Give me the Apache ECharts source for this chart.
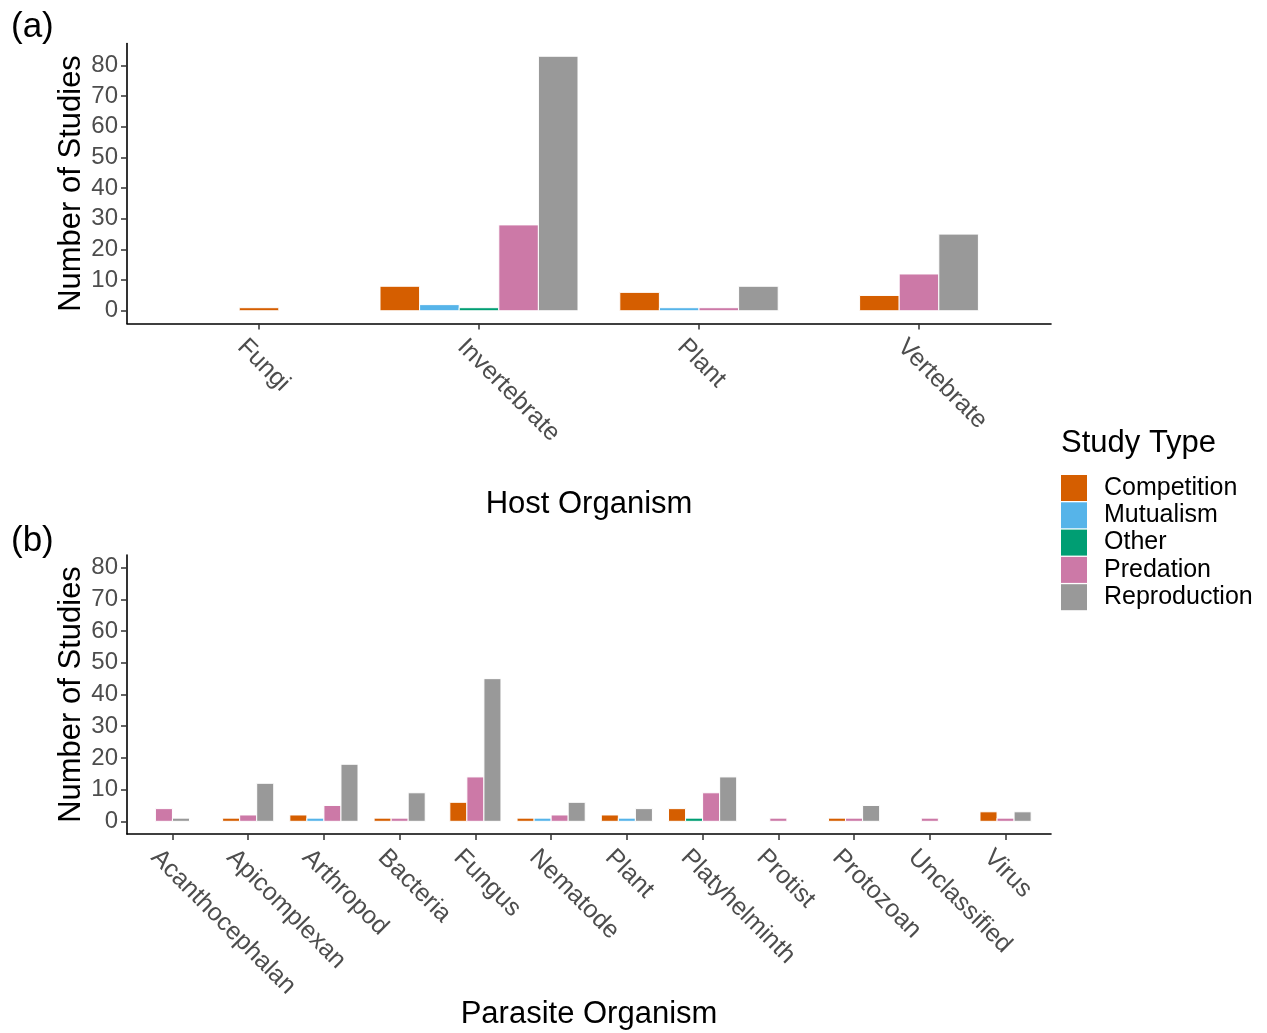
<!DOCTYPE html>
<html>
<head>
<meta charset="utf-8">
<script src="https://cdn.jsdelivr.net/npm/echarts@6/dist/echarts.min.js"></script>
<style>
  html, body { margin: 0; padding: 0; background: #fff; }
  #chart { width: 1267px; height: 1033px; }
</style>
</head>
<body>
<div id="chart"></div>
<script>
// study types (legend order) and colours
var studyTypes = ['Competition', 'Mutualism', 'Other', 'Predation', 'Reproduction'];
var typeColors = ['#D55E00', '#56B4E9', '#009E73', '#CC79A7', '#999999'];

// (a) host organism
var hostCategories = ['Fungi', 'Invertebrate', 'Plant', 'Vertebrate'];
var hostCompetition  = [1, 8, 6, 5];
var hostMutualism    = [0, 2, 1, 0];
var hostOther        = [0, 1, 0, 0];
var hostPredation    = [0, 28, 1, 12];
var hostReproduction = [0, 83, 8, 25];

// (b) parasite organism
var parasiteCategories = ['Acanthocephalan', 'Apicomplexan', 'Arthropod', 'Bacteria', 'Fungus', 'Nematode',
    'Plant', 'Platyhelminth', 'Protist', 'Protozoan', 'Unclassified', 'Virus'];
var parasiteCompetition  = [0, 1, 2, 1, 6, 1, 2, 4, 0, 1, 0, 3];
var parasiteMutualism    = [0, 0, 1, 0, 0, 1, 1, 0, 0, 0, 0, 0];
var parasiteOther        = [0, 0, 0, 0, 0, 0, 0, 1, 0, 0, 0, 0];
var parasitePredation    = [4, 2, 5, 1, 14, 2, 0, 9, 1, 1, 1, 1];
var parasiteReproduction = [1, 12, 18, 9, 45, 6, 4, 14, 0, 5, 0, 3];

var yTicks = [0, 10, 20, 30, 40, 50, 60, 70, 80];

var FONT = '"Liberation Sans", Arial, sans-serif';

var panels = [
    {
        cats: hostCategories,
        values: [hostCompetition, hostMutualism, hostOther, hostPredation, hostReproduction],
        yMin: -4.15, yMax: 87.15,
        title: 'Host Organism'
    },
    {
        cats: parasiteCategories,
        values: [parasiteCompetition, parasiteMutualism, parasiteOther, parasitePredation, parasiteReproduction],
        yMin: -4, yMax: 84,
        title: 'Parasite Organism'
    }
];

// dodge like ggplot preserve = "single": bars of a group are centred on the category
panels.forEach(function (p) {
    p.present = p.cats.map(function (c, ci) {
        var list = [];
        for (var s = 0; s < p.values.length; s++) {
            if (p.values[s][ci] > 0) list.push(s);
        }
        return list;
    });
    p.maxBars = Math.max.apply(null, p.present.map(function (l) { return l.length; }));
});

function makeRender(p, s) {
    return function (params, api) {
        var pos = api.value(0), v = api.value(1);
        var list = p.present[pos - 1];
        var rank = list.indexOf(s);
        var unit = api.size([1, 0])[0];
        var barW = unit * 0.9 / p.maxBars;
        var cx = api.coord([pos, 0])[0];
        var left = cx - list.length * barW / 2 + rank * barW;
        var y0 = api.coord([pos, 0])[1];
        var y1 = api.coord([pos, v])[1];
        return {
            type: 'rect',
            shape: { x: left, y: y1, width: barW, height: y0 - y1 },
            style: { fill: typeColors[s], stroke: '#ffffff', lineWidth: 1 }
        };
    };
}

var grids = [
    { left: 127, top: 43.5, width: 924, height: 280 },
    { left: 127, top: 555, width: 924, height: 279 }
];

var xAxes = [], yAxes = [], series = [];

panels.forEach(function (p, pi) {
    var ticks = p.cats.map(function (c, i) { return i + 1; });
    xAxes.push({
        type: 'value',
        gridIndex: pi,
        min: 0.4,
        max: p.cats.length + 0.6,
        name: p.title,
        nameLocation: 'middle',
        nameGap: 165,
        nameMoveOverlap: false,
        nameTextStyle: { fontSize: 31, color: '#000', fontFamily: FONT, verticalAlign: 'top' },
        axisLine: { show: true, onZero: false, lineStyle: { color: '#000', width: 1.6 } },
        axisTick: { show: true, customValues: ticks, length: 6, lineStyle: { color: '#333', width: 1.5 } },
        axisLabel: {
            customValues: ticks,
            hideOverlap: false,
            rotate: -45,
            margin: 2,
            align: 'left',
            verticalAlign: 'top',
            lineHeight: 50,
            fontSize: 25,
            color: '#4D4D4D',
            fontFamily: FONT,
            formatter: function (v) { return p.cats[Math.round(v) - 1] || ''; }
        },
        splitLine: { show: false }
    });
    yAxes.push({
        type: 'value',
        gridIndex: pi,
        min: p.yMin,
        max: p.yMax,
        name: 'Number of Studies',
        nameLocation: 'middle',
        nameGap: 40,
        nameMoveOverlap: false,
        nameTextStyle: { fontSize: 31, color: '#000', fontFamily: FONT },
        axisLine: { show: true, onZero: false, lineStyle: { color: '#000', width: 1.6 } },
        axisTick: { show: true, customValues: yTicks, length: 6, lineStyle: { color: '#333', width: 1.5 } },
        axisLabel: { customValues: yTicks, margin: 9, fontSize: 24, color: '#4D4D4D', fontFamily: FONT },
        splitLine: { show: false }
    });
    p.values.forEach(function (arr, s) {
        var data = [];
        arr.forEach(function (v, ci) {
            if (v > 0) data.push([ci + 1, v]);
        });
        series.push({
            type: 'custom',
            name: studyTypes[s],
            xAxisIndex: pi,
            yAxisIndex: pi,
            itemStyle: { color: typeColors[s] },
            renderItem: makeRender(p, s),
            encode: { x: 0, y: 1 },
            data: data
        });
    });
});

var chart = echarts.init(document.getElementById('chart'));
chart.setOption({
    animation: false,
    backgroundColor: '#fff',
    grid: grids,
    xAxis: xAxes,
    yAxis: yAxes,
    legend: {
        orient: 'vertical',
        left: 1061,
        top: 475,
        padding: 0,
        itemWidth: 26,
        itemHeight: 26,
        itemGap: 1.3,
        selectedMode: false,
        data: studyTypes.map(function (t) { return { name: t, icon: 'rect' }; }),
        textStyle: { fontSize: 25, color: '#000', fontFamily: FONT, padding: [0, 0, 0, 12] }
    },
    graphic: [
        { type: 'text', left: 11, top: 10, style: { text: '(a)', fontSize: 35, fill: '#000', fontFamily: FONT } },
        { type: 'text', left: 11, top: 524, style: { text: '(b)', fontSize: 35, fill: '#000', fontFamily: FONT } },
        { type: 'text', left: 1061, top: 428, style: { text: 'Study Type', fontSize: 31, fill: '#000', fontFamily: FONT } }
    ],
    series: series
});
</script>
</body>
</html>
